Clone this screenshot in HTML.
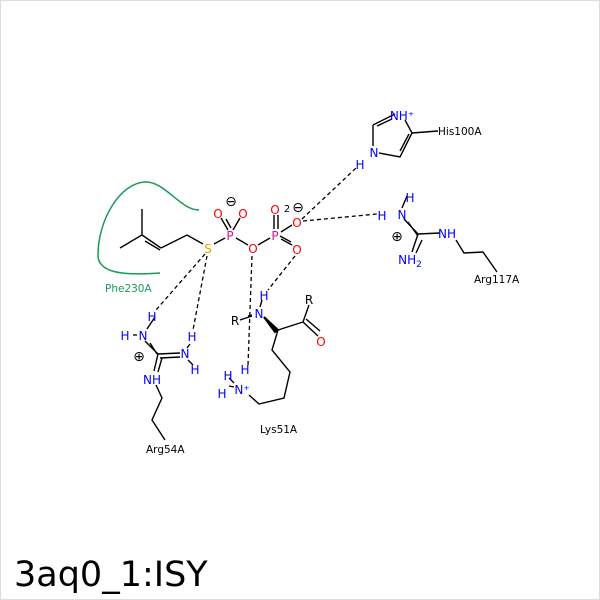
<!DOCTYPE html>
<html><head><style>body{margin:0;background:#fff}svg{display:block}</style></head><body>
<svg width="600" height="600" viewBox="0 0 600 600" xmlns="http://www.w3.org/2000/svg" font-family="DejaVu Sans, Liberation Sans, sans-serif">
<rect x="0.5" y="0.5" width="599" height="599" fill="#fff" stroke="#ddd"/>
<g stroke="#000" stroke-width="1.4" fill="none">
<!-- ligand chain -->
<path d="M120,248 L142,235 L142,209 M142,235 L161,248 M145,241 L160,250 M161,248 L187,235 L203,244"/>
<path d="M214,244 L225,238 M236,238 L248,245 M258,245 L270,238"/>
<path d="M221,218 L228,230 M240,218 L233,230 M226,219 L231,228"/>
<path d="M274,215 L274,229 M278,215 L278,229 M281,232 L292,225 M281,239 L292,245 M280,236 L291,242"/>
<!-- His -->
<path d="M373,125 L373,146 M379,153 L400,157 L412,133 L405,120 M395,114 L373,125 M400,151 L409,134 M377,126 L392,119 M412,133 L438,131"/>
<!-- Arg117 -->
<path d="M404,219 L418,234 L440,233 M418,234 L412,252 M408,222 L418,236 M422,240 L416,253 M407,196 L402,208 M456,240 L464,253 L483,252 L497,272"/>
<!-- Arg54 -->
<path d="M145,341 L158,354 L180,353 M158,354 L154,371 M150,343 L157,354 M162,358 L158,372 M158,354 L180,353 M160,358 L180,357 M190,344 L187,348 M188,360 L193,365 M156,385 L162,398 L152,420 L165,440 M155,317 L147,329"/>
<!-- Lys51 -->
<path d="M278,330 L303,322 L309,305 M303,322 L318,336 M306,319 L320,331 M278,330 L272,350 L290,372 L284,398 L259,404 L249,395 M262,300 L260,307 M240,320 L252,316 M229,386 L234,387 M229,378 L234,383"/>
</g>
<path d="M264,317 L278,330 L275,332 Z" fill="#000" stroke="#000" stroke-width="2"/>
<!-- Phe arc -->
<path d="M160,273 C120,276 98,272 98,255 C98,220 120,183 145,182 C165,181 180,210 199,210" fill="none" stroke="#1a9a5a" stroke-width="1.5"/>
<!-- dashed -->
<g stroke="#000" stroke-width="1.3" stroke-dasharray="4,3" fill="none">
<path d="M205,254 L156,310"/>
<path d="M207,256 L193,330"/>
<path d="M252,256 L248,365"/>
<path d="M295,256 L268,290"/>
<path d="M302,219 L356,168"/>
<path d="M303,221 L377,214"/>
<path d="M133,335 L139,335"/>
<path d="M248,316 L252,315"/>
</g>
<g font-size="12" text-anchor="middle">
<text x="208" y="253" fill="#e6a400">S</text>
<text x="230" y="240" fill="#e0108a">P</text>
<text x="275" y="240" fill="#e0108a">P</text>
<g fill="#f00">
<text x="218" y="218">O</text><text x="243" y="218">O</text>
<text x="253" y="253">O</text><text x="275" y="214">O</text>
<text x="297" y="227">O</text><text x="297" y="254">O</text>
<text x="321" y="346">O</text>
</g>
<text x="231" y="206" font-size="14">⊖</text>
<text x="287" y="212" font-size="10">2</text><text x="298" y="212" font-size="14">⊖</text>
<g fill="#00f">
<text x="402" y="120">NH⁺</text>
<text x="374" y="157">N</text>
<text x="360" y="169">H</text>
<text x="410" y="202">H</text>
<text x="402" y="219">N</text>
<text x="382" y="220">H</text>
<text x="447" y="238">NH</text>
<text x="410" y="264">NH<tspan font-size="9" dy="3">2</tspan></text>
<text x="152" y="321">H</text>
<text x="143" y="340">N</text>
<text x="125" y="340">H</text>
<text x="185" y="358">N</text>
<text x="192" y="341">H</text>
<text x="195" y="374">H</text>
<text x="152" y="384">NH</text>
<text x="264" y="300">H</text>
<text x="259" y="318">N</text>
<text x="245" y="374">H</text>
<text x="242" y="394">N⁺</text>
<text x="228" y="380">H</text>
<text x="222" y="398">H</text>
</g>
<text x="397" y="241" font-size="14">⊕</text>
<text x="139" y="361" font-size="14">⊕</text>
<text x="235" y="325">R</text>
<text x="309" y="304">R</text>
</g>
<g font-size="10.5" fill="#000">
<text x="438" y="135">His100A</text>
<text x="474" y="283">Arg117A</text>
<text x="146" y="453">Arg54A</text>
<text x="260" y="433">Lys51A</text>
<text x="105" y="292" fill="#1a9a5a">Phe230A</text>
</g>
<text x="14" y="586" font-size="35" fill="#000">3aq0_1:ISY</text>
</svg>
</body></html>
